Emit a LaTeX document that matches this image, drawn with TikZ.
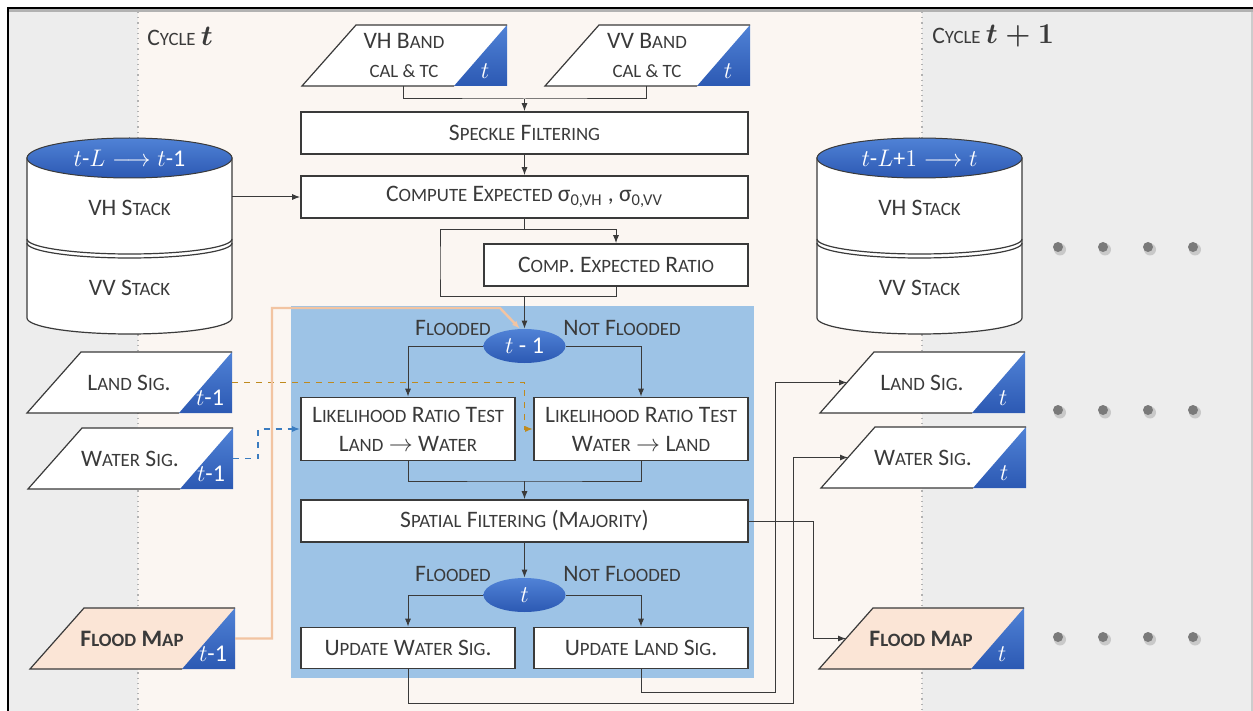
\documentclass[tikz,border=0pt]{standalone}
\usepackage{fontspec}
\setmainfont{Carlito}
\usetikzlibrary{arrows.meta,shapes.geometric}
\frenchspacing

\definecolor{inkgray}{HTML}{3A3A3A}
\definecolor{sidegray}{HTML}{EDEDED}
\definecolor{cyclebg}{HTML}{FBF6F2}
\definecolor{procblue}{HTML}{9DC3E6}
\definecolor{tagtop}{HTML}{5082D6}
\definecolor{tagbot}{HTML}{2C59B3}
\definecolor{mapfill}{HTML}{FBE5D6}
\definecolor{mapline}{HTML}{F2C4A2}
\definecolor{landline}{HTML}{BF8A1E}
\definecolor{waterline}{HTML}{3A7CC0}
\definecolor{dotgray}{HTML}{7A7A7A}

\newcommand{\lowc}[1]{{\fontsize{9.4}{10}\selectfont #1}}

\newcommand{\sigbox}[6]{%
\fill[#4] (#2,-#3-61) -- (#2+54,-#3) -- (#2+205,-#3) -- (#2+205,-#3-61) -- cycle;
\shade[top color=tagtop,bottom color=tagbot] (#2+152,-#3-61) -- (#2+205,-#3) -- (#2+205,-#3-61) -- cycle;
\draw[edge] (#2+152,-#3-61) -- (#2,-#3-61) -- (#2+54,-#3) -- (#2+205,-#3);
\node[plain] (#1) at (#2+102,-#3-31) {#5};
\node[tagtext] (#1-tag) at (#2+183,-#3-46) {#6};
\coordinate (#1-in) at (#2+27,-#3-30.5);
\coordinate (#1-out) at (#2+205,-#3-30.5);
\coordinate (#1-bot) at (#2+101,-#3-61);
}

\newcommand{\stackdb}[3]{%
\filldraw[fill=white,edge] (#2-102.5,-158) -- (#2-102.5,-318) arc[start angle=180,end angle=360,x radius=102.5,y radius=16] -- (#2+102.5,-158) -- cycle;
\draw[edge] (#2-102.5,-239) arc[start angle=180,end angle=360,x radius=102.5,y radius=15];
\draw[edge] (#2-102.5,-243) arc[start angle=180,end angle=360,x radius=102.5,y radius=15];
\shadedraw[top color=tagtop,bottom color=tagbot,draw=inkgray,line width=0.5pt] (#2,-158) ellipse[x radius=102.5,y radius=20];
\node[tagtext] (#1-tag) at (#2,-158) {#3};
\node[plain] (#1-vh) at (#2,-208) {VH S\lowc{TACK}};
\node[plain] (#1-vv) at (#2,-288) {VV S\lowc{TACK}};
\coordinate (#1-out) at (#2+102.5,-197);
}

\begin{document}
\begin{tikzpicture}[x=0.5pt,y=0.5pt,
  plain/.style={inner sep=0pt,text=inkgray,font=\fontsize{11.8}{14.5}\selectfont,align=center},
  tagtext/.style={inner sep=0pt,text=white,font=\fontsize{12}{14}\selectfont},
  edge/.style={draw=inkgray,line width=0.6pt},
  procbox/.style={plain,draw=inkgray,line width=0.8pt,fill=white,minimum height=21pt},
  wide/.style={procbox,minimum width=223.5pt},
  half/.style={procbox,minimum width=107pt},
  decide/.style={ellipse,inner sep=0pt,minimum width=41pt,minimum height=17pt,top color=tagtop,bottom color=tagbot,text=white,font=\fontsize{12}{14}\selectfont},
  wire/.style={inkgray,line width=0.5pt},
  feed/.style={wire,-{Latex[length=4pt,width=3pt]}},
  landfeed/.style={landline,line width=0.8pt,dashed,-{Latex[length=4pt,width=3pt]}},
  waterfeed/.style={waterline,line width=0.8pt,dashed,-{Latex[length=4pt,width=3pt]}},
  mapfeed/.style={mapline,line width=1.2pt,-{Latex[length=4pt,width=3pt]}}]
\useasboundingbox (0,0) rectangle (1253,-711);
\fill[white] (0,0) rectangle (1253,-711);
\fill[sidegray] (8,-9) rectangle (138,-711);
\fill[cyclebg] (138,-9) rectangle (922,-711);
\fill[sidegray] (922,-9) rectangle (1252,-711);
\draw[gray!60,line width=1.5pt] (8,-11) -- (1253,-11);
\draw[gray!60,dotted,line width=0.6pt] (138,-12) -- (138,-711);
\draw[gray!60,dotted,line width=0.6pt] (922,-12) -- (922,-711);
\draw[gray!40,line width=0.6pt] (1252,-12) -- (1252,-711);
\draw[black,line width=1.3pt] (8,-711) -- (8,-8) -- (1253,-8);
\fill[procblue] (291,-306) rectangle (754,-678);

\node[plain,anchor=west] (cyclenow) at (147,-36) {C\lowc{YCLE} {\fontsize{13.5}{14}\selectfont\boldmath$t$}};
\node[plain,anchor=west] (cyclenext) at (932,-36) {C\lowc{YCLE} {\fontsize{13.5}{14}\selectfont\boldmath$t+1$}};

\sigbox{vhband}{302}{25}{white}{VH B\lowc{AND}\\\lowc{CAL \& TC}}{$t$}
\sigbox{vvband}{545}{25}{white}{VV B\lowc{AND}\\\lowc{CAL \& TC}}{$t$}
\sigbox{landprev}{27}{352}{white}{L\lowc{AND} S\lowc{IG}.}{$t$-1}
\sigbox{waterprev}{28}{428}{white}{W\lowc{ATER} S\lowc{IG}.}{$t$-1}
\sigbox{mapprev}{30}{608}{mapfill}{\bfseries F\lowc{LOOD} M\lowc{AP}}{$t$-1}
\sigbox{landnext}{820}{352}{white}{L\lowc{AND} S\lowc{IG}.}{$t$}
\sigbox{waternext}{821}{427}{white}{W\lowc{ATER} S\lowc{IG}.}{$t$}
\sigbox{mapnext}{819}{608}{mapfill}{\bfseries F\lowc{LOOD} M\lowc{AP}}{$t$}

\stackdb{stackprev}{129.5}{$t$-$L\longrightarrow t$-1}
\stackdb{stacknext}{919.5}{$t$-$L$+$1\longrightarrow t$}

\node[wide] (speckle) at (524.5,-133) {S\lowc{PECKLE} F\lowc{ILTERING}};
\node[wide] (expect) at (524.5,-197) {C\lowc{OMPUTE} E\lowc{XPECTED} σ\textsubscript{0,VH} , σ\textsubscript{0,VV}};
\node[procbox,minimum width=132pt] (ratio) at (616,-265) {C\lowc{OMP}. E\lowc{XPECTED} R\lowc{ATIO}};
\node[decide] (ellprev) at (524.5,-346) {$t$ - 1};
\node[plain] (floodprev) at (453,-328) {F\lowc{LOODED}};
\node[plain] (dryprev) at (622,-328) {N\lowc{OT} F\lowc{LOODED}};
\node[half,minimum height=31.5pt] (lrtland) at (408,-429) {L\lowc{IKELIHOOD} R\lowc{ATIO} T\lowc{EST}\\L\lowc{AND} $\rightarrow$ W\lowc{ATER}};
\node[half,minimum height=31.5pt] (lrtwater) at (641,-429) {L\lowc{IKELIHOOD} R\lowc{ATIO} T\lowc{EST}\\W\lowc{ATER} $\rightarrow$ L\lowc{AND}};
\node[wide] (spatial) at (524.5,-521) {S\lowc{PATIAL} F\lowc{ILTERING} (M\lowc{AJORITY})};
\node[decide] (ellcur) at (524.5,-595) {$t$};
\node[plain] (floodcur) at (453,-574) {F\lowc{LOODED}};
\node[plain] (drycur) at (622,-574) {N\lowc{OT} F\lowc{LOODED}};
\node[half,minimum height=20.5pt] (updwater) at (408,-648) {U\lowc{PDATE} W\lowc{ATER} S\lowc{IG}.};
\node[half,minimum height=20.5pt] (updland) at (641,-648) {U\lowc{PDATE} L\lowc{AND} S\lowc{IG}.};

\coordinate (bandjoin) at (524.5,-99);
\coordinate (splitA) at (524.5,-230);
\coordinate (splitB) at (524.5,-297);
\coordinate (bypass) at (440,-263);
\coordinate (lrtjoin) at (524.5,-481);
\coordinate (landrail) at (775,-692);
\coordinate (waterrail) at (793,-703);
\coordinate (maprail) at (813,-521);
\coordinate (landturn) at (524.5,-429);
\coordinate (waterturn) at (258,-429);
\coordinate (maprise) at (272,-308);
\coordinate (mapbend) at (500,-308);

\draw[wire] (vhband-bot) |- (bandjoin) -| (vvband-bot);
\draw[feed] (bandjoin) -- (speckle.north);
\draw[feed] (speckle) -- (expect);
\draw[feed] (stackprev-out) -- (expect.west);
\draw[wire] (expect.south) -- (splitA) -| (bypass) |- (splitB);
\draw[feed] (splitA) -| (ratio.north);
\draw[wire] (ratio.south) |- (splitB);
\draw[feed] (splitB) -- (ellprev.north);
\draw[feed] (ellprev.west) -| (lrtland.north);
\draw[feed] (ellprev.east) -| (lrtwater.north);
\draw[wire] (lrtland.south) |- (lrtjoin) -| (lrtwater.south);
\draw[feed] (lrtjoin) -- (spatial.north);
\draw[feed] (spatial) -- (ellcur);
\draw[feed] (ellcur.west) -| (updwater.north);
\draw[feed] (ellcur.east) -| (updland.north);
\draw[feed] (updland.south) |- (landrail) |- (landnext-in);
\draw[feed] (updwater.south) |- (waterrail) |- (waternext-in);
\draw[feed] (spatial.east) -- (maprail) |- (mapnext-in);
\draw[landfeed] (landprev-out) -| (landturn) -- (lrtwater.west);
\draw[waterfeed] (waterprev-out) -| (waterturn) -- (lrtland.west);
\draw[mapfeed] (mapprev-out) -| (maprise) -- (mapbend) -- (ellprev.105);

\foreach \y in {247,410,637}
  \foreach \x in {1058,1103,1148,1193} {
    \fill[black,opacity=0.15] (\x+2,-\y-2.5) circle (6);
    \fill[dotgray] (\x,-\y) circle (5);
  }
\end{tikzpicture}
\end{document}
